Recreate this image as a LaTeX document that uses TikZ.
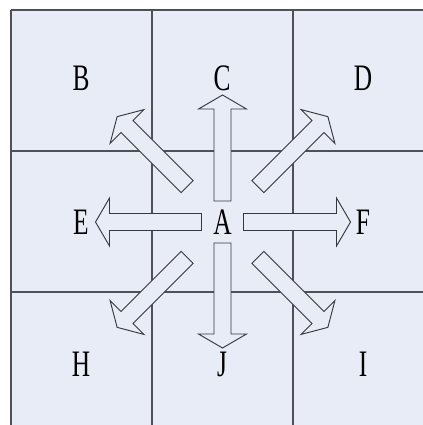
\documentclass[tikz,border=0pt]{standalone}
\usepackage{fontspec}
\usepackage{tikz}
\usetikzlibrary{positioning}
\newfontfamily\lblfont[FakeStretch=0.68]{Liberation Serif}
\definecolor{cellFill}{RGB}{231,236,246}
\definecolor{gridLine}{RGB}{80,80,88}
\definecolor{arrowLine}{RGB}{55,55,60}
\tikzset{
  lbl/.style={font=\lblfont\fontsize{28}{30}\selectfont,text=black,inner sep=0pt},
  arrowbody/.style={draw=arrowLine,fill=cellFill,line width=0.7pt,line join=miter},
  pics/blockarrow/.style 2 args={code={
    \draw[arrowbody] (#1,-8.5) -- (#2-14,-8.5) -- (#2-14,-24) -- (#2,0)
      -- (#2-14,24) -- (#2-14,8.5) -- (#1,8.5) -- cycle;
  }}
}

\begin{document}
\begin{tikzpicture}[x=0.75pt,y=-0.75pt]
        \useasboundingbox (0,0) rectangle (423,425);
        \fill[white] (0,0) rectangle (423,425);
        % Grade
        \begin{scope}
          \clip (0,0) rectangle (423,425);
          \fill[cellFill] (11,10) rectangle (434,433);
          \foreach \k in {11,152,293,434}
            \draw[gridLine,line width=1.1pt] (\k,10) -- (\k,433);
          \foreach \k in {10,151,292,433}
            \draw[gridLine,line width=1.1pt] (11,\k) -- (434,\k);
        \end{scope}
        % Centro
        \node[lbl] (A) at (222.5,222) {A};
        % Setas retas
        \pic[rotate=90]  at (A) {blockarrow={21}{127}};
        \pic[rotate=270] at (A) {blockarrow={21}{126}};
        \pic[rotate=0]   at (A) {blockarrow={21}{128}};
        \pic[rotate=180] at (A) {blockarrow={21}{127}};
        % Setas diagonais
        \pic[rotate=45]  at (A) {blockarrow={50}{149}};
        \pic[rotate=135] at (A) {blockarrow={50}{149}};
        \pic[rotate=225] at (A) {blockarrow={50}{149}};
        \pic[rotate=315] at (A) {blockarrow={50}{149}};
        % Vizinhos
        \node[lbl] (B) at (81,78) {B};
        \node[lbl] (C) at (222,78) {C};
        \node[lbl] (D) at (363,78) {D};
        \node[lbl] (E) at (81,222) {E};
        \node[lbl] (F) at (363,222) {F};
        \node[lbl] (H) at (81,364) {H};
        \node[lbl,anchor=north] (J) at (222,352) {J};
        \node[lbl] (I) at (363,364) {I};
      \end{tikzpicture}
\end{document}
